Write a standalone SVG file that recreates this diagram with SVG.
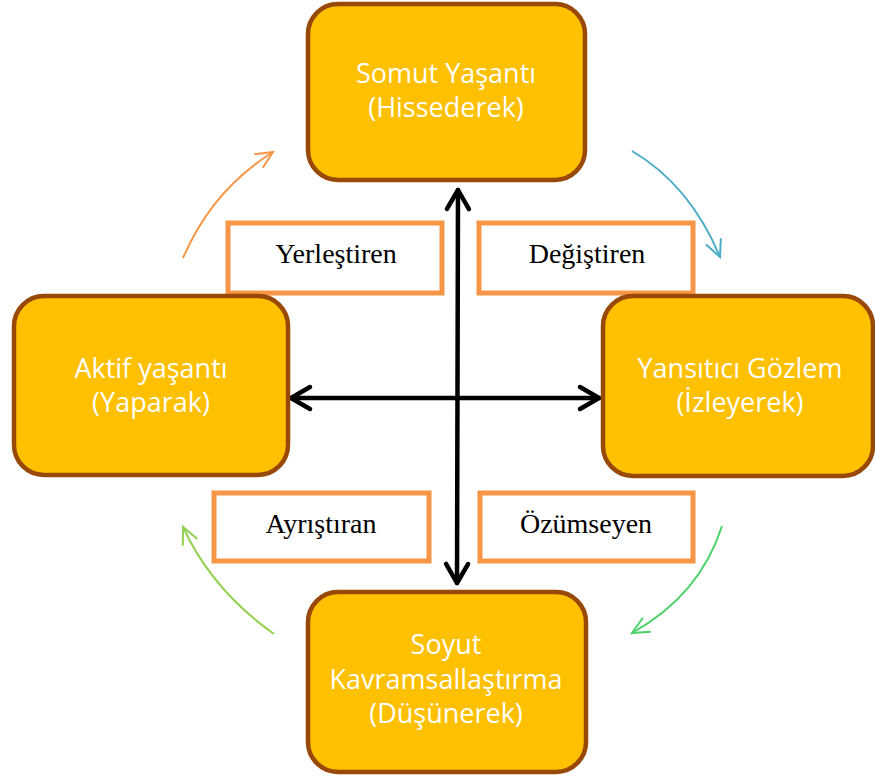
<svg xmlns="http://www.w3.org/2000/svg" width="875" height="776" viewBox="0 0 875 776">
<defs>
<style>
.node rect{fill:#FFC000;stroke:#984807;stroke-width:4.5}
.node text{font-family:"Open Sans","Noto Sans",sans-serif;font-size:27px;fill:#FFFFFF;text-anchor:middle}
.lbl rect{fill:#FFFFFF;stroke:#F79646;stroke-width:5}
.lbl text{font-family:"Liberation Serif","Times New Roman",serif;font-size:28px;fill:#000000;text-anchor:middle}
.axis{stroke:#000000;stroke-width:4.5;fill:none;stroke-linecap:round}
.curve{fill:none;stroke-width:2}
</style>
<marker id="ah" markerUnits="userSpaceOnUse" orient="auto-start-reverse" markerWidth="30" markerHeight="30" refX="0" refY="0" viewBox="-25 -15 30 30" overflow="visible">
<path d="M-19,-11 L0,0 L-19,11" fill="none" stroke="#000000" stroke-width="4.5" stroke-linecap="round" stroke-linejoin="round"/>
</marker>
<marker id="cOr" markerUnits="userSpaceOnUse" orient="auto" viewBox="-20 -12 24 24" markerWidth="24" markerHeight="24" refX="0" refY="0" overflow="visible">
<path d="M-17,-8 L0,0 L-17,8" fill="none" stroke="#F79646" stroke-width="2"/>
</marker>
<marker id="cBl" markerUnits="userSpaceOnUse" orient="auto" viewBox="-20 -12 24 24" markerWidth="24" markerHeight="24" refX="0" refY="0" overflow="visible">
<path d="M-17,-8 L0,0 L-17,8" fill="none" stroke="#4BACC6" stroke-width="2"/>
</marker>
<marker id="cGr" markerUnits="userSpaceOnUse" orient="auto" viewBox="-20 -12 24 24" markerWidth="24" markerHeight="24" refX="0" refY="0" overflow="visible">
<path d="M-17,-8 L0,0 L-17,8" fill="none" stroke="#4CD06A" stroke-width="2"/>
</marker>
<marker id="cLg" markerUnits="userSpaceOnUse" orient="auto" viewBox="-20 -12 24 24" markerWidth="24" markerHeight="24" refX="0" refY="0" overflow="visible">
<path d="M-17,-8 L0,0 L-17,8" fill="none" stroke="#92D050" stroke-width="2"/>
</marker>
</defs>
<rect x="0" y="0" width="875" height="776" fill="#FFFFFF"/>

<g id="labels">
<g id="lbl-yerlestiren" class="lbl"><rect x="228" y="223" width="214" height="70"/><text x="336" y="263">Yerleştiren</text></g>
<g id="lbl-degistiren" class="lbl"><rect x="479" y="223" width="214" height="70"/><text x="587" y="263">Değiştiren</text></g>
<g id="lbl-ayristiran" class="lbl"><rect x="214" y="493" width="215" height="68"/><text x="321" y="533">Ayrıştıran</text></g>
<g id="lbl-ozumseyen" class="lbl"><rect x="480" y="493" width="213" height="68"/><text x="586" y="533">Özümseyen</text></g>
</g>

<g id="connectors">
<line class="axis" x1="458" y1="190" x2="457" y2="583" marker-start="url(#ah)" marker-end="url(#ah)"/>
<line class="axis" x1="291" y1="398" x2="599" y2="398" marker-start="url(#ah)" marker-end="url(#ah)"/>
<path class="curve" stroke="#F79646" d="M183,258 Q212,190 273,152" marker-end="url(#cOr)"/>
<path class="curve" stroke="#4BACC6" d="M632,151 Q690,185 720,257" marker-end="url(#cBl)"/>
<path class="curve" stroke="#4CD06A" d="M722,526 Q700,595 632,633" marker-end="url(#cGr)"/>
<path class="curve" stroke="#92D050" d="M274,634 Q212,590 183,527" marker-end="url(#cLg)"/>
</g>

<g id="node-somut" class="node">
<rect x="308" y="4" width="277" height="176" rx="30"/>
<text x="446" y="83">Somut Yaşantı</text>
<text x="446" y="117">(Hissederek)</text>
</g>
<g id="node-aktif" class="node">
<rect x="14" y="296" width="274" height="179" rx="30"/>
<text x="151" y="378">Aktif yaşantı</text>
<text x="151" y="412">(Yaparak)</text>
</g>
<g id="node-yansitici" class="node">
<rect x="603" y="296" width="270" height="180" rx="30"/>
<text x="740" y="378">Yansıtıcı Gözlem</text>
<text x="740" y="412">(İzleyerek)</text>
</g>
<g id="node-soyut" class="node">
<rect x="308" y="592" width="278" height="180" rx="30"/>
<text x="446" y="654">Soyut</text>
<text x="446" y="689">Kavramsallaştırma</text>
<text x="446" y="723">(Düşünerek)</text>
</g>
</svg>
